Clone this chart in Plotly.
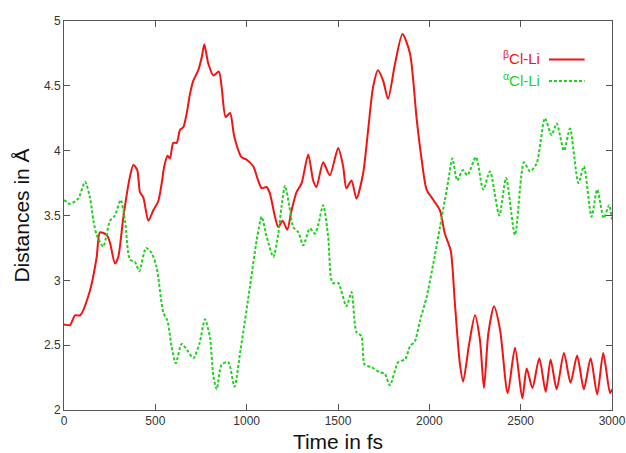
import plotly.graph_objects as go

# beta Cl-Li distance (red, solid)
BETA_T = [0, 33, 60, 88, 142, 179, 197, 234, 252, 279, 297, 325, 361, 380, 401,
          416, 434, 462, 489, 516, 535, 549, 567, 580, 598, 617, 635, 653, 672, 690,
          708, 735, 754, 768, 790, 818, 848, 863, 885, 909, 932, 972, 1000, 1036, 1063,
          1082, 1109, 1127, 1155, 1173, 1197, 1222, 1246, 1273, 1301, 1337, 1364, 1382,
          1419, 1455, 1501, 1528, 1546, 1574, 1601, 1637, 1665, 1692, 1719, 1747, 1774,
          1812, 1853, 1894, 1931, 1958, 1985, 2022, 2058, 2085, 2117, 2140, 2167, 2185,
          2218, 2250, 2277, 2299, 2323, 2354, 2387, 2429, 2469, 2509, 2533, 2564, 2602,
          2637, 2664, 2697, 2737, 2773, 2809, 2846, 2883, 2919, 2952, 2989, 3000]
BETA_D = [2.66, 2.655, 2.73, 2.73, 2.92, 3.18, 3.37, 3.35, 3.29, 3.13, 3.18, 3.49, 3.80,
          3.89, 3.85, 3.68, 3.64, 3.46, 3.54, 3.61, 3.75, 3.88, 3.96, 3.94, 4.06, 4.06,
          4.16, 4.18, 4.29, 4.44, 4.54, 4.62, 4.72, 4.82, 4.67, 4.58, 4.61, 4.49, 4.26,
          4.29, 4.11, 3.95, 3.93, 3.88, 3.77, 3.71, 3.72, 3.67, 3.49, 3.41, 3.46, 3.39,
          3.54, 3.68, 3.75, 3.97, 3.77, 3.72, 3.91, 3.81, 4.02, 3.88, 3.71, 3.77, 3.63,
          3.82, 4.16, 4.49, 4.62, 4.54, 4.40, 4.67, 4.90, 4.75, 4.24, 3.93, 3.70, 3.62,
          3.54, 3.36, 3.23, 2.82, 2.36, 2.22, 2.51, 2.73, 2.54, 2.17, 2.59, 2.80, 2.62,
          2.13, 2.48, 2.09, 2.32, 2.17, 2.40, 2.14, 2.39, 2.16, 2.44, 2.21, 2.42, 2.16,
          2.40, 2.12, 2.44, 2.13, 2.16]

# alpha Cl-Li distance (green, dashed)
ALPHA_T = [0, 33, 78, 115, 142, 161, 179, 215, 234, 252, 279, 310, 334, 361, 389, 412,
           449, 480, 507, 544, 566, 589, 612, 644, 680, 708, 741, 772, 799, 818, 836,
           863, 899, 933, 967, 1018, 1055, 1082, 1109, 1146, 1173, 1191, 1210, 1234,
           1255, 1283, 1310, 1346, 1374, 1392, 1419, 1446, 1470, 1501, 1546, 1574, 1601,
           1628, 1646, 1683, 1730, 1756, 1784, 1830, 1867, 1894, 1921, 1949, 1985, 2022,
           2058, 2085, 2104, 2126, 2153, 2183, 2208, 2255, 2295, 2332, 2383, 2420, 2469,
           2518, 2551, 2587, 2633, 2669, 2697, 2737, 2770, 2816, 2846, 2888, 2919, 2955,
           2984, 3000]
ALPHA_D = [3.62, 3.59, 3.63, 3.76, 3.64, 3.46, 3.35, 3.26, 3.36, 3.46, 3.50, 3.62, 3.46,
           3.16, 3.14, 3.07, 3.25, 3.21, 3.10, 2.75, 2.69, 2.49, 2.36, 2.51, 2.45, 2.40,
           2.51, 2.70, 2.56, 2.26, 2.16, 2.35, 2.37, 2.18, 2.47, 2.95, 3.31, 3.49, 3.34,
           3.18, 3.36, 3.57, 3.73, 3.57, 3.41, 3.37, 3.27, 3.40, 3.36, 3.43, 3.58, 3.34,
           2.98, 2.98, 2.80, 2.91, 2.60, 2.57, 2.35, 2.33, 2.29, 2.28, 2.19, 2.37, 2.39,
           2.49, 2.53, 2.69, 2.87, 3.13, 3.41, 3.62, 3.77, 3.94, 3.77, 3.85, 3.81, 3.95,
           3.70, 3.84, 3.50, 3.79, 3.35, 3.91, 3.84, 3.90, 4.25, 4.12, 4.21, 4.00, 4.17,
           3.75, 3.88, 3.49, 3.70, 3.48, 3.58, 3.47]

X_TICKS = [0, 500, 1000, 1500, 2000, 2500, 3000]
Y_TICKS = [2, 2.5, 3, 3.5, 4, 4.5, 5]

RED = "#f01414"
GREEN = "#22d022"
FONT = "Liberation Sans, Arial, sans-serif"

fig = go.Figure()
fig.add_trace(go.Scatter(x=BETA_T, y=BETA_D, mode="lines", name="βCl-Li",
                         line=dict(color=RED, width=2, shape="spline", smoothing=0.7)))
fig.add_trace(go.Scatter(x=ALPHA_T, y=ALPHA_D, mode="lines", name="αCl-Li",
                         line=dict(color=GREEN, width=2, shape="spline", smoothing=0.7,
                                   dash="3px,2px")))

# gnuplot-style key: text on the left, line sample on the right
key = [("<sup>β</sup>Cl-Li", RED, "solid", 0.905), ("<sup>α</sup>Cl-Li", GREEN, "3px,2px", 0.85)]
for text, col, dash, yy in key:
    fig.add_annotation(xref="paper", yref="paper", x=0.872, y=yy, text=text,
                       showarrow=False, xanchor="right", yanchor="middle",
                       font=dict(family=FONT, size=15, color=col))
    fig.add_shape(type="line", xref="paper", yref="paper", x0=0.885, x1=0.95,
                  y0=yy - 0.004, y1=yy - 0.004, line=dict(color=col, width=2, dash=dash))

axis_common = dict(showline=True, linecolor="#555555", linewidth=1, mirror="allticks",
                   ticks="inside", ticklen=6, tickcolor="#555555", showgrid=False,
                   zeroline=False, automargin=False,
                   tickfont=dict(family=FONT, size=12, color="#333333"))
fig.update_xaxes(range=[0, 3000], tickvals=X_TICKS, title=dict(
    text="Time in fs", font=dict(family=FONT, size=21, color="#111111"), standoff=6),
    **axis_common)
fig.update_yaxes(range=[2, 5], tickvals=Y_TICKS, title=dict(
    text="Distances in Å", font=dict(family=FONT, size=21, color="#111111"), standoff=8),
    **axis_common)

fig.update_layout(width=626, height=453, showlegend=False, hovermode=False,
                  margin=dict(l=64, r=14, t=21, b=43),
                  plot_bgcolor="white", paper_bgcolor="white")
# drop the default page margin so the figure fills the window exactly
fig.write_html("out.html", config={"displayModeBar": False},
               post_script="document.body.style.margin='0';"
                           "document.body.style.overflow='hidden';")
